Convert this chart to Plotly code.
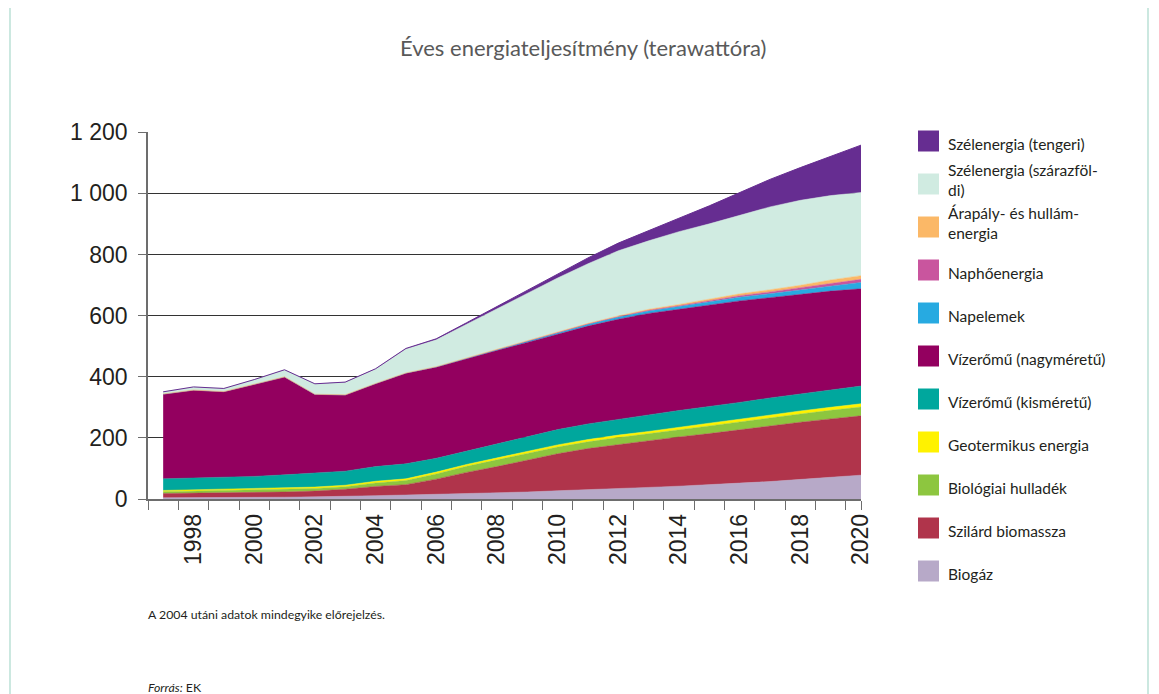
import plotly.graph_objects as go

years = list(range(1997, 2021))

biogas = [4, 4, 5, 5, 6, 7, 8, 11, 13, 15, 18, 20, 23, 27, 30, 33, 38, 42, 46, 52, 57, 65, 71, 78]
solid_biomass = [14, 15, 15, 16, 17, 19, 24, 30, 34, 50, 69, 86, 104, 121, 135, 145, 152, 161, 168, 175, 183, 186, 191, 194]
bio_waste = [6, 7, 7, 8, 8, 8.5, 8, 11.5, 13.5, 17, 20, 21, 22, 22, 22, 23, 23, 24, 25, 25, 26, 27, 28, 29]
geothermal = [4, 4, 4, 4, 4, 4.5, 5, 5.5, 5.5, 6, 6, 6.5, 7, 7, 7.5, 8, 8, 8.5, 9, 9, 9.5, 10, 10, 10.5]
small_hydro = [38, 38, 40, 41, 44, 46, 46, 48, 49, 45, 43, 45, 48, 50, 51, 52, 54, 54, 54, 55, 55, 56, 57, 58]
large_hydro = [277, 288, 280, 301, 320, 257, 249, 271, 296, 298, 303, 307, 308, 311, 320, 327, 332, 331, 333, 332, 328, 325, 323, 318]
pv = [0.1, 0.1, 0.1, 0.1, 0.2, 0.3, 0.4, 0.6, 1, 1.5, 2, 3, 4, 5, 6, 7, 8, 9, 10, 12, 13, 15, 18, 21]
solar_thermal = [0, 0, 0, 0, 0, 0, 0, 0, 0, 0, 0, 0.3, 0.5, 1, 1.5, 2, 2.5, 3, 4, 5, 6, 7, 8.5, 10]
tidal = [0.5, 0.5, 0.5, 0.5, 0.5, 0.5, 0.5, 0.5, 0.5, 0.5, 0.5, 0.5, 0.5, 1, 1.5, 2, 3, 4, 5, 6, 7, 8, 10, 12]
wind_onshore = [7, 10, 10, 15, 23, 34, 41, 47, 78, 88, 110, 133, 157, 178, 195, 213, 224, 238, 246, 257, 271, 278, 276, 272]
wind_offshore = [0, 0, 0, 0, 0, 0, 0.5, 1, 2, 3, 5, 7, 10, 14, 19, 25, 32, 44, 59, 74, 90, 107, 128, 155]

series = [
    ("Biogáz", biogas, "#b7a9c8"),
    ("Szilárd biomassza", solid_biomass, "#b0344b"),
    ("Biológiai hulladék", bio_waste, "#8dc63f"),
    ("Geotermikus energia", geothermal, "#fff200"),
    ("Vízerőmű (kisméretű)", small_hydro, "#00a79d"),
    ("Vízerőmű (nagyméretű)", large_hydro, "#93005f"),
    ("Napelemek", pv, "#27aae1"),
    ("Naphőenergia", solar_thermal, "#c9559e"),
    ("Árapály- és hullám-<br>energia", tidal, "#fbb867"),
    ("Szélenergia (szárazföl-<br>di)", wind_onshore, "#d0ebe1"),
    ("Szélenergia (tengeri)", wind_offshore, "#662d91"),
]

y_ticks = [0, 200, 400, 600, 800, 1000, 1200]
y_ticktext = ["0", "200", "400", "600", "800", "1 000", "1 200"]
x_label_years = list(range(1998, 2021, 2))

fig = go.Figure()
for name, vals, col in series:
    fig.add_trace(go.Scatter(
        x=years, y=vals, name=name, stackgroup="one", mode="lines",
        line=dict(color=col, width=1 if "tengeri" in name else 0.5),
        fillcolor=col, showlegend=False, hoverinfo="x+y+name"))

# page is rendered with an 8px body margin; work in page pixels
OFF = 8
PAGE_W, PAGE_H = 1159, 694
W, H = PAGE_W - OFF, PAGE_H - OFF
PL, PR, PT, PB = 148, 861, 132, 499          # plot area in page pixels
L, T = PL - OFF, PT - OFF
pw, ph = PR - PL, PB - PT
R, B = W - L - pw, H - T - ph

def px(x):
    return (x - PL) / pw

def py(y):
    return (PB - y) / ph

axis_font = dict(family="Liberation Sans, Arial, sans-serif", size=23, color="#231f20")
text_font = "Lato, Noto Sans, sans-serif"

fig.update_layout(
    width=W, height=H,
    margin=dict(l=L, r=R, t=T, b=B),
    paper_bgcolor="white", plot_bgcolor="white",
    showlegend=False,
    xaxis=dict(
        range=[1996.5, 2020], tickvals=x_label_years, ticktext=[str(v) for v in x_label_years],
        tickangle=-90, tickfont=axis_font, ticks="", showgrid=False, zeroline=False,
        showline=True, linecolor="#6d6d6d", linewidth=1.5,
        minor=dict(tickvals=[y + 0.5 for y in range(1996, 2020)] + [2020], ticks="outside",
                   ticklen=9, tickcolor="#6d6d6d", tickwidth=1.2, showgrid=False),
        ticklabelstandoff=4,
    ),
    yaxis=dict(
        range=[0, 1200.5], tickvals=y_ticks, ticktext=y_ticktext, tickfont=axis_font,
        ticks="outside", ticklen=8, tickcolor="#6d6d6d", tickwidth=1.2,
        showgrid=True, gridcolor="#333333", gridwidth=1.1, zeroline=False,
        showline=True, linecolor="#6d6d6d", linewidth=1.5,
        ticklabelstandoff=6,
    ),
)

# Title
fig.add_annotation(x=px(583), y=py(47), xref="paper", yref="paper",
                   text="Éves energiateljesítmény (terawattóra)", showarrow=False,
                   font=dict(family=text_font, size=22, color="#595959"),
                   xanchor="center", yanchor="middle")

# Custom legend (top to bottom)
legend_items = list(reversed(series))
for i, (name, vals, col) in enumerate(legend_items):
    cy = 141 + 43 * i
    fig.add_shape(type="rect", xref="paper", yref="paper",
                  x0=px(918), x1=px(939), y0=py(cy - 10.5), y1=py(cy + 10.5),
                  fillcolor=col, line=dict(width=0))
    two = "<br>" in name
    ty = cy - 4 if two else cy + 3
    fig.add_annotation(x=px(946), y=py(ty), xref="paper", yref="paper",
                       text=name, showarrow=False, align="left",
                       font=dict(family=text_font, size=15.5, color="#231f20"),
                       xanchor="left", yanchor="middle")

# Footnotes
fig.add_annotation(x=px(146), y=py(614), xref="paper", yref="paper",
                   text="A 2004 utáni adatok mindegyike előrejelzés.", showarrow=False,
                   font=dict(family=text_font, size=12.3, color="#231f20"),
                   xanchor="left", yanchor="middle")
fig.add_annotation(x=px(146), y=py(678), xref="paper", yref="paper",
                   text="<i>Forrás:</i> EK", showarrow=False,
                   font=dict(family=text_font, size=12.3, color="#231f20"),
                   xanchor="left", yanchor="top")

# Frame lines
for xline in (10, 1148):
    fig.add_shape(type="line", xref="paper", yref="paper",
                  x0=px(xline), x1=px(xline), y0=py(OFF), y1=py(PAGE_H),
                  line=dict(color="#a9d9cc", width=1.2))

fig.write_html("out.html")
